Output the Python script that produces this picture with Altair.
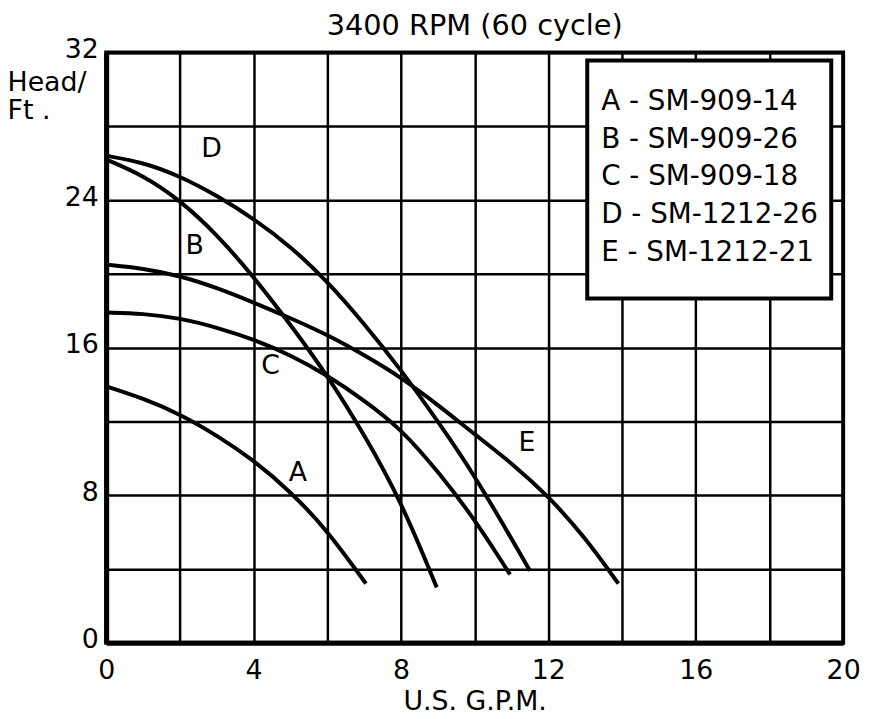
import altair as alt
import pandas as pd

FONT = "DejaVu Sans"

# ---- data ----
series_names = ["A - SM-909-14", "B - SM-909-26", "C - SM-909-18", "D - SM-1212-26", "E - SM-1212-21"]

a_gpm = [0, 1, 2, 3, 4, 5, 6, 7.05]
a_head = [13.9, 13.25, 12.4, 11.25, 9.9, 8.2, 6.1, 3.2]

b_gpm = [0, 1, 2, 3, 4, 5, 6, 7, 8, 8.97]
b_head = [26.2, 25.35, 24.0, 22.15, 19.85, 17.25, 14.5, 11.3, 7.7, 3.0]

c_gpm = [0, 1, 2, 3, 4, 5, 6, 7, 8, 9, 10, 10.96]
c_head = [17.9, 17.85, 17.6, 17.1, 16.45, 15.6, 14.5, 13.15, 11.6, 9.3, 6.7, 3.7]

d_gpm = [0, 1, 2, 3, 4, 5, 6, 7, 8, 9, 10, 11.5]
d_head = [26.4, 26.05, 25.3, 24.25, 23.0, 21.5, 19.6, 17.3, 14.8, 12.0, 9.1, 3.9]

e_gpm = [0, 1, 2, 3, 4, 5, 6, 7, 8, 9, 10, 11, 12, 13, 13.9]
e_head = [20.5, 20.3, 19.9, 19.25, 18.45, 17.6, 16.7, 15.6, 14.4, 12.9, 11.3, 9.75, 7.95, 5.7, 3.2]

letters = ["A", "B", "C", "D", "E"]
letter_gpm = [5.2, 2.4, 4.46, 2.86, 11.42]
letter_head = [9.2, 21.5, 15.0, 26.75, 10.8]

x_grid = list(range(0, 21, 2))
y_grid = list(range(0, 33, 4))

# ---- build tables ----
rows = []
for name, xs, ys in zip(series_names,
                        [a_gpm, b_gpm, c_gpm, d_gpm, e_gpm],
                        [a_head, b_head, c_head, d_head, e_head]):
    for x, y in zip(xs, ys):
        rows.append({"model": name, "gpm": x, "head": y})
curves = pd.DataFrame(rows)
labels = pd.DataFrame({"letter": letters, "gpm": letter_gpm, "head": letter_head})

X = alt.X("gpm:Q", scale=alt.Scale(domain=[0, 20], nice=False, zero=False),
          axis=alt.Axis(values=x_grid, labelExpr="datum.value % 4 === 0 ? datum.label : ''",
                        title="U.S. G.P.M.", titleY=67, titleBaseline="alphabetic",
                        labelPadding=15, labelFlush=False, labelOverlap=False))
Y = alt.Y("head:Q", scale=alt.Scale(domain=[0, 32], nice=False, zero=False),
          axis=alt.Axis(values=y_grid, labelExpr="datum.value % 8 === 0 ? datum.label : ''",
                        title=["Head/", "Ft ."], titleAngle=0, titleAlign="left",
                        titleBaseline="alphabetic", titleX=-100, titleY=38, titleLineHeight=29,
                        labelPadding=8, labelOffset=-3, labelFlush=False, labelOverlap=False))

lines = alt.Chart(curves).mark_line(interpolate="basis", strokeWidth=4, strokeCap="butt").encode(
    x=X, y=Y,
    color=alt.Color("model:N",
                    scale=alt.Scale(domain=series_names, range=["black"] * 5),
                    legend=alt.Legend(orient="none", legendX=471, legendY=36, title=None,
                                      labelFont=FONT, labelFontSize=28, labelColor="black",
                                      labelLimit=400,
                                      symbolOpacity=0, symbolSize=0, symbolStrokeWidth=0,
                                      rowPadding=10, padding=0, labelOffset=0)),
)

box = alt.Chart(pd.DataFrame({"k": [0]})).mark_rect(
    fill="white", stroke="black", strokeWidth=4
).encode(x=alt.value(485), x2=alt.value(731), y=alt.value(8), y2=alt.value(248))

text = alt.Chart(labels).mark_text(font=FONT, fontSize=27, align="center", baseline="middle",
                                   color="black").encode(x=X, y=Y, text="letter:N")

chart = alt.layer(box, lines, text).properties(
    width=743, height=595,
    autosize="none",
    padding={"left": 99, "top": 42, "right": 18, "bottom": 72},
    title=alt.TitleParams(text="3400 RPM (60 cycle)", font=FONT, fontSize=29, fontWeight="normal",
                          color="black", anchor="middle", offset=0, dy=5),
).configure_axis(
    grid=True, gridColor="black", gridWidth=2.5, gridOpacity=1,
    domainColor="black", domainWidth=5, ticks=False, tickSize=0,
    labelFont=FONT, labelFontSize=27, labelColor="black",
    titleFont=FONT, titleFontSize=27, titleFontWeight="normal", titleColor="black",
).configure_view(stroke="black", strokeWidth=4)

chart.save("out.html", embed_options={"renderer": "svg", "actions": False})
